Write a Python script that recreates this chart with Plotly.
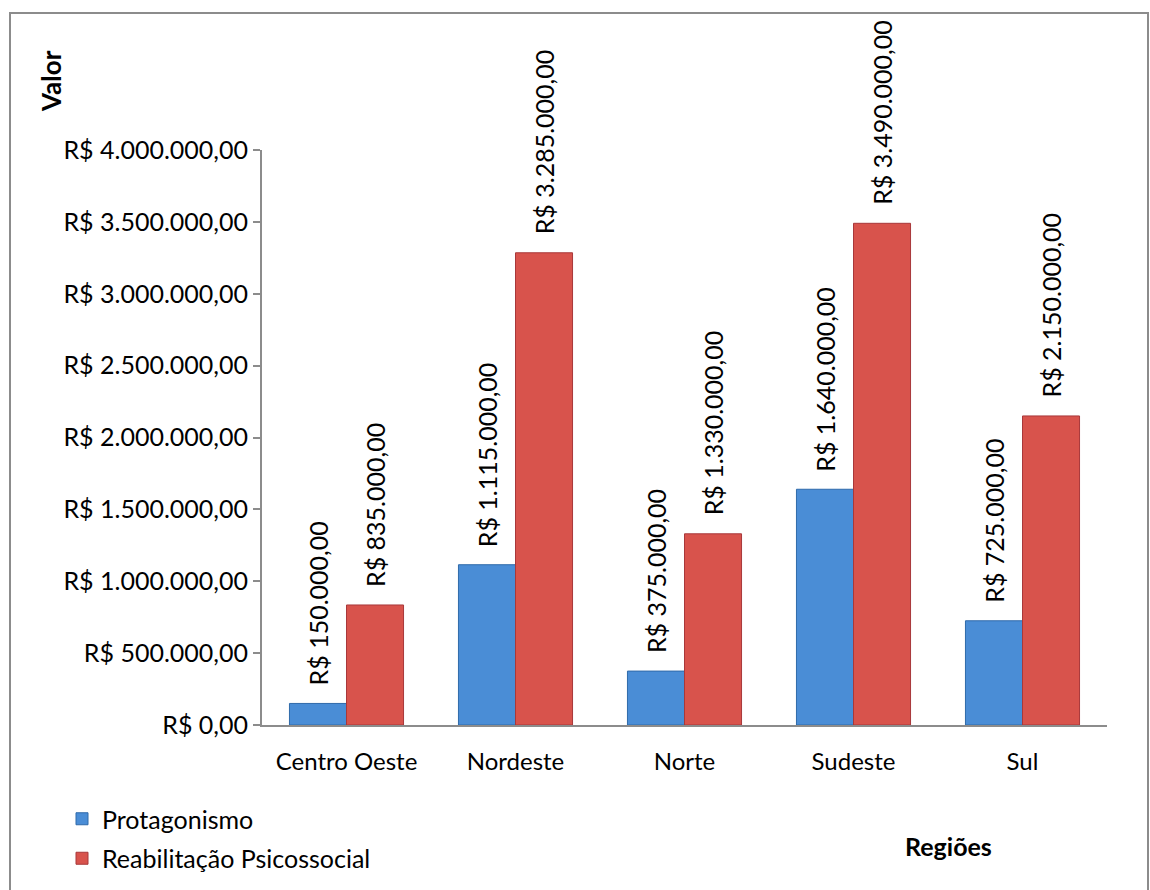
import plotly.graph_objects as go

categories = ["Centro Oeste", "Nordeste", "Norte", "Sudeste", "Sul"]
protagonismo = [150000, 1115000, 375000, 1640000, 725000]
reabilitacao = [835000, 3285000, 1330000, 3490000, 2150000]
series_names = ["Protagonismo", "Reabilitação Psicossocial"]
tick_vals = [0, 500000, 1000000, 1500000, 2000000, 2500000, 3000000, 3500000, 4000000]


def brl(v):
    s = f"{v:,.2f}"
    s = s.replace(",", "X").replace(".", ",").replace("X", ".")
    return "R$ " + s


tick_text = [brl(v) for v in tick_vals]
FONT = "Lato, Open Sans, sans-serif"
FS = 25

L, R, T, B = 262, 43, 150, 165
W, H = 1150, 890
pw, ph = W - L - R, H - T - B

fig = go.Figure()
fig.add_trace(go.Bar(
    x=categories, y=protagonismo, name=series_names[0], legendgroup="a",
    marker=dict(color="#4a8dd6", line=dict(color="#2f6aaa", width=1)),
))
fig.add_trace(go.Bar(
    x=categories, y=reabilitacao, name=series_names[1], legendgroup="b",
    marker=dict(color="#d8534c", line=dict(color="#a8383a", width=1)),
))

bar_off = 0.675 / 4 * pw / len(categories)
for vals, sign in ((protagonismo, -1), (reabilitacao, 1)):
    for c, v in zip(categories, vals):
        fig.add_annotation(
            x=c, y=v, xref="x", yref="y", text=brl(v), textangle=-90,
            showarrow=False, xanchor="center", yanchor="bottom",
            xshift=sign * bar_off, yshift=16,
            font=dict(family=FONT, size=FS, color="black"),
        )

fig.add_annotation(
    x=(51 - L) / pw, y=(H - B - 81) / ph, xref="paper", yref="paper",
    xanchor="center", yanchor="middle",
    text="<b>Valor</b>", textangle=-90, showarrow=False,
    font=dict(family=FONT, size=26, color="black"),
)
fig.add_annotation(
    x=(948 - L) / pw, y=(H - B - 846) / ph, xref="paper", yref="paper",
    xanchor="center", yanchor="middle",
    text="<b>Regiões</b>", showarrow=False,
    font=dict(family=FONT, size=FS, color="black"),
)

fig.add_shape(
    type="rect", xref="paper", yref="paper",
    x0=(10 - L) / pw, x1=(1148 - L) / pw,
    y0=(H - B - 900) / ph, y1=(H - B - 13) / ph,
    line=dict(color="#8c8c8c", width=2), fillcolor="rgba(0,0,0,0)", layer="below",
)

fig.update_layout(
    width=W, height=H,
    margin=dict(l=L, r=R, t=T, b=B, autoexpand=False),
    paper_bgcolor="white", plot_bgcolor="white",
    barmode="group", bargap=0.325, bargroupgap=0,
    font=dict(family=FONT, size=FS, color="black"),
    showlegend=True,
    legend=dict(
        x=(62 - L) / pw, y=(H - B - 796) / ph, xanchor="left", yanchor="top",
        orientation="v", font=dict(family=FONT, size=FS, color="black"),
        itemwidth=30, traceorder="grouped", tracegroupgap=4,
        bgcolor="rgba(0,0,0,0)",
    ),
    xaxis=dict(
        showline=True, linecolor="#8c8c8c", linewidth=2, ticks="",
        showgrid=False, tickfont=dict(family=FONT, size=24),
        ticklabelstandoff=14,
    ),
    yaxis=dict(
        range=[0, 4000000], tickvals=tick_vals, ticktext=tick_text,
        showline=True, linecolor="#8c8c8c", linewidth=2,
        ticks="outside", ticklen=7, tickcolor="#8c8c8c", tickwidth=2,
        showgrid=False, zeroline=False, tickfont=dict(family=FONT, size=FS),
    ),
)

fig.write_html("out.html")
